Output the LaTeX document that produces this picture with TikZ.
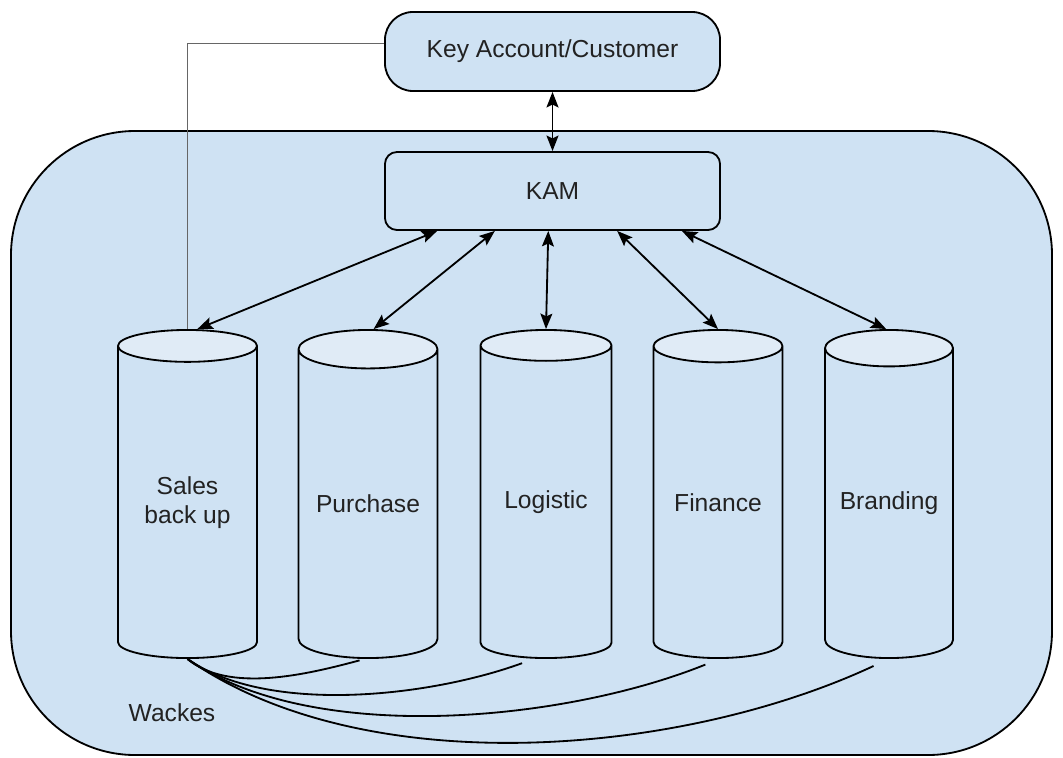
\documentclass[tikz,border=0pt]{standalone}
\usepackage{fontspec}
\setmainfont{Liberation Sans}
\usetikzlibrary{shapes.geometric,arrows.meta,calc}

\definecolor{boxblue}{HTML}{CFE2F3}
\definecolor{capblue}{HTML}{E0EBF6}
\definecolor{inkgray}{HTML}{222222}

\tikzstyle{outer}=[draw=black,fill=boxblue,line width=1.3pt,rounded corners=3.1cm]
\tikzstyle{custbox}=[draw=black,fill=boxblue,line width=1.3pt,rounded corners=0.7cm,minimum width=8.375cm,minimum height=1.975cm,inner sep=0pt]
\tikzstyle{kambox}=[draw=black,fill=boxblue,line width=1.3pt,rounded corners=0.3cm,minimum width=8.375cm,minimum height=1.95cm,inner sep=0pt]
\tikzstyle{silo}=[cylinder,shape border rotate=90,draw=black,line width=1.3pt,cylinder uses custom fill,cylinder body fill=boxblue,cylinder end fill=capblue,aspect=0.37,minimum height=8.2cm,inner sep=0pt,align=center,anchor=shape center]
\tikzstyle{link}=[line width=1.3pt,{Stealth[length=11pt,width=8.5pt,inset=2pt]}-{Stealth[length=11pt,width=8.5pt,inset=2pt]}]
\tikzstyle{feed}=[line width=1.3pt]
\tikzstyle{backline}=[draw=black!60,line width=0.7pt]

\begin{document}
\begin{tikzpicture}[x=0.025cm,y=0.025cm,font=\fontsize{17.5}{21}\selectfont,text=inkgray]

   \useasboundingbox (0,0) rectangle (1063,-757);

   % Wackes
   \draw[outer] (11,-131) rectangle (1052,-755);
   \node (wackes) at (172,-713) {Wackes};

   \node[custbox] (customer) at (552.5,-51.5) {Key Account/Customer};
   \node[kambox] (kam) at (552.5,-191) {KAM};

   \node[silo,minimum width=3.475cm] (sales) at (187.5,-494) {Sales\\back up};
   \node[silo,minimum width=3.475cm] (purchase) at (368,-494) {Purchase};
   \node[silo,minimum width=3.275cm] (logistic) at (546,-494) {Logistic};
   \node[silo,minimum width=3.225cm] (finance) at (718,-494) {Finance};
   \node[silo,minimum width=3.2cm] (branding) at (889,-494) {Branding};

   \draw[link] (customer.south) -- (kam.north);
   \draw[link] ([xshift=-82pt]kam.south) -- ([xshift=7pt]sales.north);
   \draw[link] ([xshift=-41pt]kam.south) -- ([xshift=4pt]purchase.north);
   \draw[link] ([xshift=-3pt]kam.south) -- (logistic.north);
   \draw[link] ([xshift=46pt]kam.south) -- (finance.north);
   \draw[link] ([xshift=92pt]kam.south) -- ([xshift=-2pt]branding.north);

   \draw[backline] ([yshift=6pt]customer.west) -| (sales.north);

   \draw[feed] (sales.south) to[out=-40,in=195,looseness=0.8] ([xshift=-6pt,yshift=-1pt]purchase.south);
   \draw[feed] (sales.south) to[out=-35,in=200,looseness=0.75] ([xshift=-17pt,yshift=-3pt]logistic.south);
   \draw[feed] (sales.south) to[out=-35,in=202,looseness=0.75] ([xshift=-9pt,yshift=-4pt]finance.south);
   \draw[feed] (sales.south) to[out=-35,in=205,looseness=0.8] ([xshift=-11pt,yshift=-5pt]branding.south);

\end{tikzpicture}
\end{document}
